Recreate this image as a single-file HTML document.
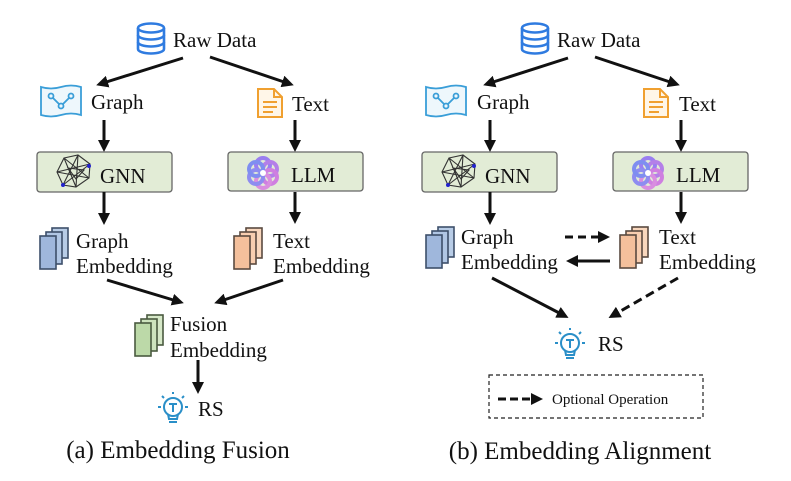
<!DOCTYPE html>
<html><head><meta charset="utf-8"><style>
html,body{margin:0;padding:0;background:#fff;width:791px;height:481px;overflow:hidden}
svg text{font-family:"Liberation Serif",serif;fill:#111}
</style></head><body>
<svg width="791" height="481" viewBox="0 0 791 481" xmlns="http://www.w3.org/2000/svg">
<defs>
<marker id="ah" markerWidth="12" markerHeight="12" refX="8" refY="6" orient="auto" markerUnits="userSpaceOnUse">
<path d="M0,0 L12,6 L0,12 z" fill="#111"/></marker>
<g id="db"><g fill="none" stroke="#2f7be0" stroke-width="2.6">
<ellipse cx="15" cy="5" rx="13" ry="4.5"/><path d="M2,5 v21 a13,4.5 0 0 0 26,0 v-21"/><path d="M2,12 a13,4.5 0 0 0 26,0"/><path d="M2,19 a13,4.5 0 0 0 26,0"/></g></g>
<g id="graph"><path d="M1,1 Q11,4 21,1 Q31,-2 41,1 V29 Q31,26 21,29 Q11,32 1,29 z" fill="#eef7fc" stroke="#3a9ed8" stroke-width="1.8"/>
<g stroke="#3a9ed8" stroke-width="1.8" fill="none"><circle cx="11" cy="10" r="2.5"/><circle cx="21" cy="20" r="2.5"/><circle cx="31" cy="10" r="2.5"/><path d="M13,12 L19,18 M23,18 L29,12"/></g></g>
<g id="doc"><path d="M1,1 H17 L25,9 V29 H1 z" fill="#fff6e8" stroke="#f0a030" stroke-width="2"/><path d="M17,1 V9 H25" fill="none" stroke="#f0a030" stroke-width="2"/><path d="M6,14 H20 M6,19 H20 M6,24 H16" stroke="#f0a030" stroke-width="2"/></g>
<g id="gnnic"><g stroke="#333" stroke-width="1.1" fill="none"><polygon points="8,4 22,1 34,10 33,24 20,33 7,31 1,18"/><path d="M8,4 L33,24 M22,1 L7,31 M34,10 L1,18 M1,18 L33,24 M8,4 L20,33 M22,1 L20,33 M34,10 L7,31 M12,14 L28,16 L20,25 z"/></g><circle cx="33" cy="12" r="2" fill="#22c"/><circle cx="7" cy="31" r="2" fill="#22c"/></g>
<g id="llmic"><g fill="none" stroke-width="4">
<circle cx="15" cy="8" r="7" stroke="#9a7ef0"/><circle cx="22" cy="12" r="7" stroke="#b47fe8"/><circle cx="22" cy="20" r="7" stroke="#cf7fe0"/><circle cx="15" cy="24" r="7" stroke="#d98de0"/><circle cx="8" cy="20" r="7" stroke="#8e8cf0"/><circle cx="8" cy="12" r="7" stroke="#7f8ef0"/></g><circle cx="15" cy="16" r="3" fill="#fff"/></g>
<g id="stackB"><rect x="12" y="0" width="16" height="30" fill="#b8cce6" stroke="#3d4f6a" stroke-width="1.6"/><rect x="6" y="4" width="16" height="32" fill="#b0c6e4" stroke="#3d4f6a" stroke-width="1.6"/><rect x="0" y="8" width="16" height="33" fill="#9fb7dc" stroke="#3d4f6a" stroke-width="1.6"/></g>
<g id="stackO"><rect x="12" y="0" width="16" height="30" fill="#f9d7bd" stroke="#5a4a40" stroke-width="1.6"/><rect x="6" y="4" width="16" height="32" fill="#f8ceb0" stroke="#5a4a40" stroke-width="1.6"/><rect x="0" y="8" width="16" height="33" fill="#f4c09c" stroke="#5a4a40" stroke-width="1.6"/></g>
<g id="stackG"><rect x="12" y="0" width="16" height="30" fill="#d6e8c8" stroke="#4a5a40" stroke-width="1.6"/><rect x="6" y="4" width="16" height="32" fill="#cde3bd" stroke="#4a5a40" stroke-width="1.6"/><rect x="0" y="8" width="16" height="33" fill="#bcd9a8" stroke="#4a5a40" stroke-width="1.6"/></g>
<g id="bulb"><g fill="none" stroke="#2a8fc8" stroke-width="2"><circle cx="17" cy="15" r="9"/><path d="M12,22 L13,27 H21 L22,22"/><path d="M13,30 H21"/><path d="M13,12 H21 M17,12 V20"/><path d="M2,15 H5 M29,15 H32 M6,4 L8,6 M28,4 L26,6 M17,0 V2"/></g></g>
</defs>

<!-- LEFT -->
<use href="#db" x="136" y="23"/>
<text x="173" y="47" font-size="21">Raw Data</text>
<line x1="183" y1="58" x2="100" y2="84" stroke="#111" stroke-width="3" marker-end="url(#ah)"/>
<line x1="210" y1="57" x2="290" y2="84" stroke="#111" stroke-width="3" marker-end="url(#ah)"/>
<use href="#graph" x="40" y="86"/>
<text x="91" y="109" font-size="21">Graph</text>
<use href="#doc" x="257" y="88"/>
<text x="292" y="111" font-size="21">Text</text>
<line x1="104" y1="120" x2="104" y2="148" stroke="#111" stroke-width="3" marker-end="url(#ah)"/>
<line x1="295" y1="120" x2="295" y2="148" stroke="#111" stroke-width="3" marker-end="url(#ah)"/>
<rect x="37" y="152" width="135" height="40" rx="3" fill="#e2ecd6" stroke="#666" stroke-width="1.3"/>
<use href="#gnnic" x="56" y="154"/>
<text x="100" y="183" font-size="21">GNN</text>
<rect x="228" y="152" width="135" height="39" rx="3" fill="#e2ecd6" stroke="#666" stroke-width="1.3"/>
<use href="#llmic" x="248" y="157"/>
<text x="291" y="182" font-size="21">LLM</text>
<line x1="104" y1="192" x2="104" y2="221" stroke="#111" stroke-width="3" marker-end="url(#ah)"/>
<line x1="295" y1="192" x2="295" y2="220" stroke="#111" stroke-width="3" marker-end="url(#ah)"/>
<use href="#stackB" x="40" y="228"/>
<text x="76" y="248" font-size="21">Graph</text>
<text x="76" y="273" font-size="21">Embedding</text>
<use href="#stackO" x="234" y="228"/>
<text x="273" y="248" font-size="21">Text</text>
<text x="273" y="273" font-size="21">Embedding</text>
<line x1="107" y1="280" x2="180" y2="302" stroke="#111" stroke-width="3" marker-end="url(#ah)"/>
<line x1="283" y1="280" x2="218" y2="302" stroke="#111" stroke-width="3" marker-end="url(#ah)"/>
<use href="#stackG" x="135" y="315"/>
<text x="170" y="331" font-size="21">Fusion</text>
<text x="170" y="357" font-size="21">Embedding</text>
<line x1="198" y1="360" x2="198" y2="390" stroke="#111" stroke-width="3" marker-end="url(#ah)"/>
<use href="#bulb" x="156" y="392"/>
<text x="198" y="416" font-size="21">RS</text>
<text x="178" y="458" font-size="25" text-anchor="middle">(a) Embedding Fusion</text>

<!-- RIGHT -->
<use href="#db" x="520" y="23"/>
<text x="557" y="47" font-size="21">Raw Data</text>
<line x1="568" y1="58" x2="487" y2="84" stroke="#111" stroke-width="3" marker-end="url(#ah)"/>
<line x1="595" y1="57" x2="676" y2="84" stroke="#111" stroke-width="3" marker-end="url(#ah)"/>
<use href="#graph" x="425" y="86"/>
<text x="477" y="109" font-size="21">Graph</text>
<use href="#doc" x="643" y="88"/>
<text x="679" y="111" font-size="21">Text</text>
<line x1="490" y1="120" x2="490" y2="148" stroke="#111" stroke-width="3" marker-end="url(#ah)"/>
<line x1="681" y1="120" x2="681" y2="148" stroke="#111" stroke-width="3" marker-end="url(#ah)"/>
<rect x="422" y="152" width="135" height="40" rx="3" fill="#e2ecd6" stroke="#666" stroke-width="1.3"/>
<use href="#gnnic" x="441" y="154"/>
<text x="485" y="183" font-size="21">GNN</text>
<rect x="613" y="152" width="135" height="39" rx="3" fill="#e2ecd6" stroke="#666" stroke-width="1.3"/>
<use href="#llmic" x="633" y="157"/>
<text x="676" y="182" font-size="21">LLM</text>
<line x1="490" y1="192" x2="490" y2="221" stroke="#111" stroke-width="3" marker-end="url(#ah)"/>
<line x1="681" y1="192" x2="681" y2="220" stroke="#111" stroke-width="3" marker-end="url(#ah)"/>
<use href="#stackB" x="426" y="227"/>
<text x="461" y="244" font-size="21">Graph</text>
<text x="461" y="269" font-size="21">Embedding</text>
<use href="#stackO" x="620" y="227"/>
<text x="659" y="244" font-size="21">Text</text>
<text x="659" y="269" font-size="21">Embedding</text>
<line x1="565" y1="237" x2="606" y2="237" stroke="#111" stroke-width="3" stroke-dasharray="8,5" marker-end="url(#ah)"/>
<line x1="610" y1="261" x2="570" y2="261" stroke="#111" stroke-width="3" marker-end="url(#ah)"/>
<line x1="492" y1="278" x2="565" y2="316" stroke="#111" stroke-width="3" marker-end="url(#ah)"/>
<line x1="678" y1="278" x2="612" y2="316" stroke="#111" stroke-width="3" stroke-dasharray="9,5" marker-end="url(#ah)"/>
<use href="#bulb" x="553" y="328"/>
<text x="598" y="351" font-size="21">RS</text>
<rect x="489" y="375" width="214" height="43" fill="none" stroke="#222" stroke-width="1.2" stroke-dasharray="4,3"/>
<line x1="498" y1="399" x2="539" y2="399" stroke="#111" stroke-width="3" stroke-dasharray="8,4" marker-end="url(#ah)"/>
<text x="552" y="404" font-size="15">Optional Operation</text>
<text x="580" y="459" font-size="25" text-anchor="middle">(b) Embedding Alignment</text>
</svg>
</body></html>
